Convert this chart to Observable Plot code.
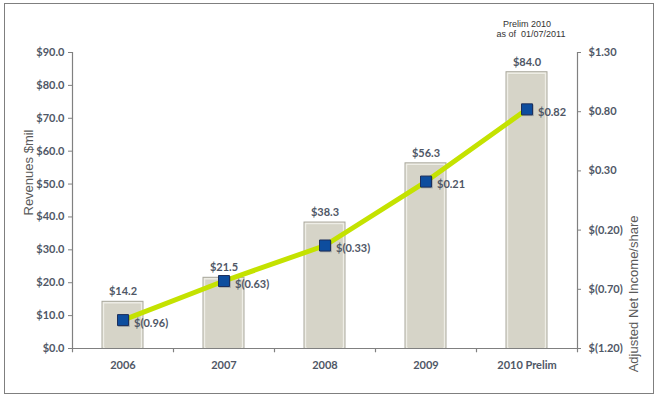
<!DOCTYPE html>
<html>
<head>
<meta charset="utf-8">
<script src="https://cdn.jsdelivr.net/npm/d3@7"></script>
<script src="https://cdn.jsdelivr.net/npm/@observablehq/plot@0.6"></script>
<style>
  html, body { margin: 0; padding: 0; background: #fff; }
  #wrap { position: relative; width: 657px; height: 399px; }
  #border { position: absolute; left: 4px; top: 3px; width: 648px; height: 389px; border: 1.6px solid #7f7f7f; pointer-events: none; }
</style>
</head>
<body>
<div id="wrap"><div id="border"></div></div>
<script>
// ---- data ----
const years = ["2006", "2007", "2008", "2009", "2010 Prelim"];
const revenues = [14.2, 21.5, 38.3, 56.3, 84.0];
const netIncome = [-0.96, -0.63, -0.33, 0.21, 0.82];
const revTicks = [0, 10, 20, 30, 40, 50, 60, 70, 80, 90];
const incomeTicks = [-1.2, -0.7, -0.2, 0.3, 0.8, 1.3];
const noteLine1 = "Prelim 2010";
const noteLine2 = "as of  01/07/2011";

// ---- derived ----
const revMax = 90, incMin = -1.2, incMax = 1.3;
const toRev = v => (v - incMin) / (incMax - incMin) * revMax;
const fromRev = r => r / revMax * (incMax - incMin) + incMin;
const fmtMoney1 = v => "$" + v.toFixed(1);
const fmtIncome = v => v < 0 ? "$(" + Math.abs(v).toFixed(2) + ")" : "$" + v.toFixed(2);
const rows = years.map((y, i) => ({year: y, rev: revenues[i], inc: netIncome[i], incR: toRev(netIncome[i])}));

const W = 657, H = 399, mL = 72, mR = 80, mT = 52, mB = 51;
const bw = (W - mL - mR) / years.length;
const txt = "#4f5766";
const numFont = "Lato, 'Open Sans', sans-serif";
const noteFont = "'Liberation Sans', Arial, sans-serif";

const chart = Plot.plot({
  width: W, height: H,
  marginLeft: mL, marginRight: mR, marginTop: mT, marginBottom: mB,
  style: {fontFamily: numFont, fontSize: "11px", color: txt, background: "transparent", overflow: "visible"},
  x: {type: "band", domain: years, padding: 0},
  y: {domain: [0, revMax]},
  marks: [
    // bars (3D-ish)
    Plot.barY(rows, {x: "year", y: "rev", insetLeft: 30, insetRight: 30, fill: "#d3d1c4", stroke: "#a9a89d", strokeWidth: 1}),
    Plot.barY(rows, {x: "year", y: "rev", insetLeft: 31.5, insetRight: 31.5, insetTop: 1.5, fill: "none", stroke: "#eeede6", strokeWidth: 1.5}),
    Plot.barY(rows, {x: "year", y: "rev", insetLeft: 33, insetRight: 33, insetTop: 3, fill: "#d6d4c8"}),
    // axis lines
    Plot.ruleY([0], {stroke: "#808080", strokeWidth: 1.2}),
    Plot.ruleX([years[0]], {dx: -bw / 2, stroke: "#808080", strokeWidth: 1.2}),
    Plot.ruleX([years[years.length - 1]], {dx: bw / 2, stroke: "#808080", strokeWidth: 1.2}),
    // boundary ticks on x
    Plot.ruleX(years, {x: d => d, y1: 0, y2: -1.3, dx: -bw / 2, stroke: "#808080", strokeWidth: 1.2}),
    Plot.ruleX([years[years.length - 1]], {y1: 0, y2: -1.3, dx: bw / 2, stroke: "#808080", strokeWidth: 1.2}),
    // axes
    Plot.axisX({tickSize: 0, tickPadding: 13, label: null, fontWeight: "bold", fontSize: 11, fill: txt}),
    Plot.axisY(revTicks, {anchor: "left", tickSize: 4, tickPadding: 4, tickFormat: fmtMoney1, label: null, fontWeight: "bold", fontSize: 11, fill: txt, stroke: "#808080"}),
    Plot.axisY(incomeTicks.map(toRev), {anchor: "right", tickSize: 3, tickPadding: 8, tickFormat: d => fmtIncome(Math.round(fromRev(d) * 100) / 100), label: null, fontWeight: "bold", fontSize: 11, fill: txt, stroke: "#808080"}),
    // axis titles
    Plot.text(["Revenues $mil"], {frameAnchor: "left", dx: -44, dy: 15, rotate: -90, fontFamily: noteFont, fontSize: 13, fill: "#5a5a5a"}),
    Plot.text(["Adjusted Net Income/share"], {frameAnchor: "right", dx: 56, dy: 15, rotate: -90, fontFamily: noteFont, fontSize: 13, fill: "#5a5a5a"}),
    // revenue labels
    Plot.text(rows, {x: "year", y: "rev", text: d => fmtMoney1(d.rev), dy: -10, fontWeight: "bold", fontSize: 11, fill: txt}),
    // net income line + markers
    Plot.line(rows, {x: "year", y: "incR", stroke: "#c4e200", strokeWidth: 5}),
    Plot.dot(rows, {x: "year", y: "incR", symbol: "square", r: 6.5, fill: "#3a4a60", dx: 1, dy: 1, opacity: 0.35}),
    Plot.dot(rows, {x: "year", y: "incR", symbol: "square", r: 6.2, fill: "#0d4d9e", stroke: "#1d2f5c", strokeWidth: 1}),
    Plot.text(rows, {x: "year", y: "incR", text: d => fmtIncome(d.inc), dx: 11, dy: 3, textAnchor: "start", fontWeight: "bold", fontSize: 11, fill: txt}),
    // note (two lines)
    Plot.text([noteLine1], {x: () => years[years.length - 1], frameAnchor: "top", dx: 0, dy: -32, fontFamily: noteFont, fontSize: 9, fill: "#333"}),
    Plot.text([noteLine2], {x: () => years[years.length - 1], frameAnchor: "top", dx: 4, dy: -22, fontFamily: noteFont, fontSize: 9, fill: "#333"})
  ]
});
document.getElementById("wrap").prepend(chart);
</script>
</body>
</html>
